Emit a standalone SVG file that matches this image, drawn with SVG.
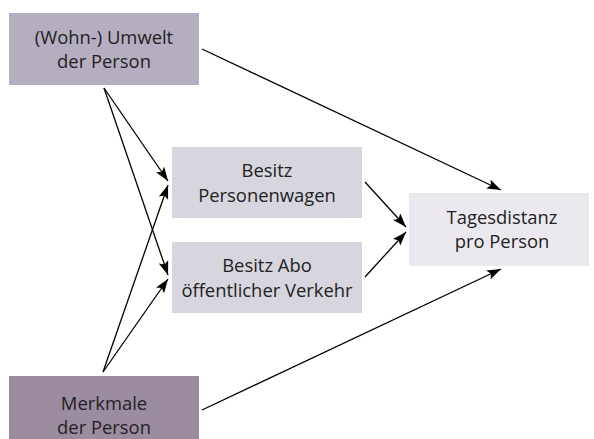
<svg xmlns="http://www.w3.org/2000/svg" width="594" height="439" viewBox="0 0 594 439">
<style>
text{font-family:"Open Sans","Noto Sans","Liberation Sans",sans-serif;font-size:18.4px;fill:#222;text-anchor:middle}
.c line{stroke:#000;stroke-width:1.3;fill:none}
</style>
<defs>
<marker id="ah" viewBox="0 0 14 10" refX="14" refY="5" markerWidth="14" markerHeight="10" markerUnits="userSpaceOnUse" orient="auto">
<path d="M0,0 L14,5 L0,10 L3,5 Z" fill="#000"/>
</marker>
</defs>
<rect width="594" height="439" fill="#fff"/>
<g id="umwelt"><rect x="9" y="13" width="190" height="72" fill="#b5aec0"/><text x="104" y="44">(Wohn-) Umwelt</text><text x="104" y="68">der Person</text></g>
<g id="pw"><rect x="172" y="147" width="190" height="71" fill="#d7d5de"/><text x="267" y="177">Besitz</text><text x="267" y="202">Personenwagen</text></g>
<g id="abo"><rect x="172" y="242" width="190" height="71" fill="#d7d5de"/><text x="267" y="272">Besitz Abo</text><text x="267" y="297">öffentlicher Verkehr</text></g>
<g id="tages"><rect x="409" y="193" width="180" height="73" fill="#ebe9ef"/><text x="502" y="224">Tagesdistanz</text><text x="502" y="248">pro Person</text></g>
<g id="merkmale"><rect x="9" y="376" width="190" height="63" fill="#9b8d9f"/><text x="104" y="410">Merkmale</text><text x="104" y="434">der Person</text></g>
<g class="c">
<line x1="202" y1="49" x2="501" y2="190" marker-end="url(#ah)"/>
<line x1="104" y1="88" x2="168" y2="181" marker-end="url(#ah)"/>
<line x1="104" y1="88" x2="168" y2="275" marker-end="url(#ah)"/>
<line x1="103" y1="372" x2="168" y2="185" marker-end="url(#ah)"/>
<line x1="103" y1="372" x2="168" y2="279" marker-end="url(#ah)"/>
<line x1="365" y1="182" x2="406" y2="227" marker-end="url(#ah)"/>
<line x1="365" y1="277" x2="406" y2="232" marker-end="url(#ah)"/>
<line x1="202" y1="410" x2="501" y2="269" marker-end="url(#ah)"/>
</g>
</svg>
